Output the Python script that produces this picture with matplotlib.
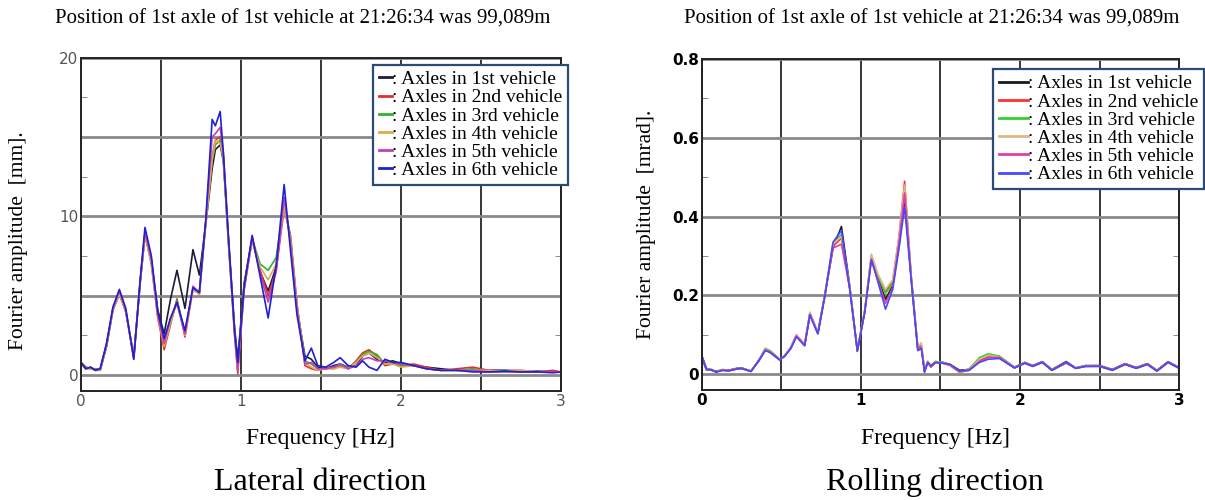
import matplotlib.pyplot as plt
from matplotlib.ticker import MultipleLocator

plt.rcParams['font.family'] = ['Liberation Serif', 'DejaVu Serif']

title_text = "Position of 1st axle of 1st vehicle at 21:26:34 was 99,089m"
labels = [": Axles in 1st vehicle", ": Axles in 2nd vehicle", ": Axles in 3rd vehicle",
          ": Axles in 4th vehicle", ": Axles in 5th vehicle", ": Axles in 6th vehicle"]

# lateral direction, amplitude in mm
freq_lat = [0, 0.03, 0.06, 0.09, 0.12, 0.16, 0.20, 0.24, 0.28, 0.33,
            0.37, 0.40, 0.44, 0.48, 0.52, 0.56, 0.60, 0.65, 0.70, 0.74,
            0.78, 0.82, 0.84, 0.87, 0.89, 0.92, 0.96, 0.98, 1.02, 1.07,
            1.12, 1.17, 1.22, 1.27, 1.31, 1.35, 1.40, 1.44, 1.48, 1.53,
            1.58, 1.62, 1.67, 1.72, 1.76, 1.80, 1.85, 1.90, 1.95, 2.00,
            2.08, 2.16, 2.25, 2.35, 2.45, 2.55, 2.65, 2.75, 2.85, 2.95,
            3.0]

lat_v1 = [0.8, 0.5, 0.4, 0.4, 0.3, 1.8, 4.1, 5.1, 4.0, 1.2,
          5.8, 8.8, 7.2, 4.1, 2.6, 4.8, 6.6, 4.2, 7.9, 6.3,
          9.5, 13.0, 14.2, 14.5, 13.5, 8.8, 3.0, 1.0, 5.8, 8.6,
          6.5, 5.3, 6.8, 11.0, 8.5, 4.2, 1.2, 1.0, 0.5, 0.4,
          0.6, 0.7, 0.5, 0.6, 1.2, 1.4, 1.0, 0.8, 0.9, 0.7,
          0.6, 0.5, 0.4, 0.3, 0.3, 0.3, 0.3, 0.2, 0.25, 0.2,
          0.2]
lat_v2 = [0.7, 0.4, 0.5, 0.3, 0.4, 1.9, 4.2, 5.2, 4.0, 1.1,
          5.9, 8.9, 7.0, 3.6, 1.6, 3.2, 4.8, 2.4, 5.4, 5.1,
          9.6, 13.8, 14.8, 15.0, 13.8, 8.6, 2.5, 0.1, 5.4, 8.5,
          6.6, 5.0, 6.6, 10.5, 8.8, 4.5, 0.6, 0.4, 0.3, 0.5,
          0.4, 0.6, 0.4, 0.9, 1.4, 1.6, 1.2, 0.6, 0.7, 0.6,
          0.7, 0.5, 0.3, 0.4, 0.5, 0.3, 0.3, 0.3, 0.2, 0.3,
          0.2]
lat_v3 = [0.7, 0.5, 0.4, 0.4, 0.3, 1.9, 4.2, 5.2, 4.1, 1.2,
          5.9, 8.9, 7.1, 3.9, 2.0, 3.4, 4.7, 2.7, 5.5, 5.2,
          9.6, 13.5, 14.5, 14.8, 13.6, 8.7, 2.8, 0.6, 5.6, 8.6,
          7.0, 6.6, 7.4, 10.8, 8.6, 4.4, 0.9, 0.7, 0.4, 0.4,
          0.5, 0.6, 0.5, 0.8, 1.3, 1.5, 1.3, 0.7, 0.8, 0.6,
          0.6, 0.4, 0.3, 0.3, 0.4, 0.2, 0.3, 0.2, 0.2, 0.2,
          0.2]
lat_v4 = [0.7, 0.4, 0.4, 0.3, 0.3, 1.9, 4.1, 5.1, 4.0, 1.1,
          5.8, 8.8, 7.0, 3.7, 1.8, 3.3, 4.6, 2.5, 5.4, 5.1,
          9.5, 13.6, 14.8, 14.6, 13.7, 8.7, 2.6, 0.4, 5.5, 8.5,
          6.8, 6.0, 7.0, 10.6, 8.6, 4.5, 0.8, 0.5, 0.3, 0.4,
          0.4, 0.5, 0.4, 0.8, 1.2, 1.4, 1.1, 0.7, 0.7, 0.5,
          0.6, 0.4, 0.3, 0.3, 0.3, 0.3, 0.2, 0.3, 0.2, 0.2,
          0.2]
lat_v5 = [0.8, 0.4, 0.5, 0.3, 0.4, 2.0, 4.2, 5.3, 4.1, 1.0,
          5.9, 9.0, 7.3, 3.8, 2.0, 3.6, 4.5, 2.6, 5.6, 5.2,
          9.7, 15.0, 15.2, 15.6, 14.0, 8.9, 2.7, 0.3, 5.4, 8.7,
          6.4, 4.6, 6.5, 11.2, 8.3, 4.2, 0.7, 0.8, 0.4, 0.4,
          0.5, 0.7, 0.4, 0.6, 1.0, 1.1, 0.9, 0.9, 0.8, 0.7,
          0.6, 0.4, 0.3, 0.3, 0.3, 0.2, 0.2, 0.2, 0.2, 0.2,
          0.2]
lat_v6 = [0.8, 0.4, 0.5, 0.3, 0.4, 2.0, 4.3, 5.4, 4.2, 1.0,
          6.0, 9.3, 7.5, 4.0, 2.3, 3.6, 4.6, 2.8, 5.5, 5.2,
          9.8, 16.1, 15.7, 16.6, 14.0, 9.0, 2.8, 0.8, 5.6, 8.8,
          6.2, 3.6, 6.9, 12.0, 7.8, 3.8, 0.9, 1.7, 0.6, 0.5,
          0.8, 1.1, 0.6, 0.5, 0.9, 0.5, 0.3, 1.0, 0.8, 0.8,
          0.6, 0.4, 0.3, 0.3, 0.2, 0.2, 0.25, 0.2, 0.2, 0.15,
          0.2]

# rolling direction, amplitude in mrad
freq_rol = [0, 0.03, 0.06, 0.09, 0.13, 0.17, 0.22, 0.25, 0.31, 0.36,
            0.40, 0.43, 0.49, 0.52, 0.56, 0.595, 0.647, 0.68, 0.73, 0.773,
            0.825, 0.878, 0.93, 0.978, 1.024, 1.066, 1.107, 1.155, 1.20, 1.24,
            1.275, 1.316, 1.358, 1.38, 1.40, 1.42, 1.44, 1.47, 1.515, 1.56,
            1.62, 1.68, 1.745, 1.80, 1.87, 1.965, 2.03, 2.08, 2.14, 2.20,
            2.29, 2.35, 2.41, 2.50, 2.58, 2.66, 2.73, 2.80, 2.86, 2.93,
            3.0]

rol_v1 = [0.048, 0.015, 0.010, 0.008, 0.010, 0.010, 0.015, 0.016, 0.008, 0.036,
          0.064, 0.058, 0.038, 0.046, 0.068, 0.098, 0.075, 0.155, 0.105, 0.20,
          0.32, 0.375, 0.225, 0.058, 0.16, 0.295, 0.245, 0.19, 0.225, 0.33,
          0.445, 0.245, 0.065, 0.07, 0.01, 0.032, 0.022, 0.032, 0.03, 0.025,
          0.010, 0.012, 0.035, 0.045, 0.045, 0.018, 0.03, 0.022, 0.032, 0.012,
          0.032, 0.016, 0.022, 0.022, 0.012, 0.027, 0.017, 0.027, 0.010, 0.032,
          0.017]
rol_v2 = [0.040, 0.012, 0.012, 0.006, 0.012, 0.010, 0.014, 0.014, 0.008, 0.034,
          0.062, 0.056, 0.037, 0.046, 0.068, 0.10, 0.075, 0.152, 0.105, 0.20,
          0.325, 0.345, 0.22, 0.062, 0.158, 0.30, 0.25, 0.21, 0.235, 0.35,
          0.49, 0.25, 0.065, 0.075, 0.008, 0.030, 0.018, 0.030, 0.028, 0.022,
          0.005, 0.010, 0.035, 0.045, 0.042, 0.016, 0.028, 0.020, 0.030, 0.010,
          0.028, 0.015, 0.020, 0.020, 0.010, 0.025, 0.015, 0.025, 0.008, 0.030,
          0.015]
rol_v3 = [0.042, 0.013, 0.011, 0.006, 0.011, 0.009, 0.014, 0.016, 0.008, 0.036,
          0.066, 0.060, 0.038, 0.046, 0.066, 0.098, 0.074, 0.152, 0.104, 0.198,
          0.33, 0.355, 0.22, 0.060, 0.16, 0.30, 0.25, 0.205, 0.23, 0.34,
          0.47, 0.25, 0.062, 0.07, 0.008, 0.032, 0.020, 0.032, 0.030, 0.024,
          0.006, 0.014, 0.042, 0.052, 0.046, 0.017, 0.030, 0.021, 0.031, 0.011,
          0.030, 0.016, 0.021, 0.021, 0.011, 0.026, 0.016, 0.026, 0.009, 0.031,
          0.016]
rol_v4 = [0.042, 0.012, 0.012, 0.006, 0.011, 0.009, 0.014, 0.015, 0.008, 0.035,
          0.065, 0.058, 0.037, 0.047, 0.07, 0.10, 0.076, 0.158, 0.106, 0.20,
          0.33, 0.35, 0.222, 0.06, 0.162, 0.305, 0.255, 0.215, 0.24, 0.35,
          0.48, 0.25, 0.07, 0.08, 0.010, 0.034, 0.020, 0.031, 0.029, 0.023,
          0.006, 0.012, 0.038, 0.048, 0.044, 0.017, 0.029, 0.021, 0.031, 0.011,
          0.029, 0.015, 0.021, 0.021, 0.010, 0.026, 0.016, 0.026, 0.009, 0.031,
          0.016]
rol_v5 = [0.044, 0.013, 0.011, 0.006, 0.010, 0.010, 0.014, 0.015, 0.007, 0.035,
          0.062, 0.057, 0.037, 0.046, 0.066, 0.097, 0.074, 0.152, 0.104, 0.198,
          0.32, 0.33, 0.218, 0.060, 0.158, 0.292, 0.24, 0.18, 0.22, 0.335,
          0.46, 0.245, 0.062, 0.068, 0.006, 0.030, 0.020, 0.030, 0.028, 0.024,
          0.007, 0.011, 0.033, 0.042, 0.043, 0.016, 0.029, 0.021, 0.031, 0.010,
          0.030, 0.015, 0.020, 0.021, 0.011, 0.026, 0.016, 0.026, 0.009, 0.031,
          0.016]
rol_v6 = [0.045, 0.011, 0.012, 0.005, 0.010, 0.008, 0.013, 0.015, 0.007, 0.035,
          0.060, 0.055, 0.036, 0.045, 0.065, 0.095, 0.072, 0.150, 0.102, 0.195,
          0.335, 0.365, 0.215, 0.060, 0.155, 0.290, 0.235, 0.165, 0.215, 0.320,
          0.425, 0.240, 0.060, 0.065, 0.005, 0.030, 0.020, 0.030, 0.028, 0.025,
          0.008, 0.010, 0.030, 0.038, 0.040, 0.016, 0.028, 0.020, 0.030, 0.010,
          0.030, 0.015, 0.020, 0.020, 0.010, 0.025, 0.015, 0.025, 0.008, 0.030,
          0.015]

lat_colors = ['#1c1c3a', '#e03030', '#30b030', '#e0a850', '#c040c0', '#2020d0']
rol_colors = ['#1a1a1a', '#ff3030', '#30d030', '#e0b888', '#e040a0', '#4848ff']

fig = plt.figure(figsize=(12.05, 5), dpi=100)
ax1 = fig.add_axes([0.0672, 0.218, 0.3983, 0.667])
ax2 = fig.add_axes([0.5823, 0.220, 0.3963, 0.662])


def style_axes(ax, ymin, ymax, ystep, ylabels, minor, tick_color, tick_weight):
    ax.set_xlim(0, 3)
    ax.set_ylim(ymin, ymax)
    ax.set_xticks([0, 0.5, 1, 1.5, 2, 2.5, 3])
    ax.set_xticklabels(['0', '', '1', '', '2', '', '3'])
    yt = [ystep * i for i in range(len(ylabels))]
    ax.set_yticks(yt)
    ax.set_yticklabels(ylabels)
    ax.yaxis.set_minor_locator(MultipleLocator(minor))
    ax.tick_params(which='major', length=0, pad=2, labelsize=11,
                   labelcolor=tick_color, labelfontfamily='DejaVu Sans')
    ax.tick_params(which='minor', axis='y', direction='in', length=4,
                   color='#777777', left=True, right=True)
    for t in ax.get_xticklabels() + ax.get_yticklabels():
        t.set_fontweight(tick_weight)
    ax.grid(True, axis='x', color='black', linewidth=1.1)
    ax.grid(True, axis='y', color='#8a8a8a', linewidth=2.0)
    for s in ax.spines.values():
        s.set_linewidth(1.4)
        s.set_color('#222222')


lat = [lat_v1, lat_v2, lat_v3, lat_v4, lat_v5, lat_v6]
for vals, c, lab in zip(lat, lat_colors, labels):
    ax1.plot(freq_lat, vals, color=c, linewidth=1.2, label=lab)
style_axes(ax1, -1, 20, 5, ['0', '', '10', '', '20'], 2.5, '#555555', 'normal')

rol = [rol_v1, rol_v2, rol_v3, rol_v4, rol_v5, rol_v6]
for vals, c, lab in zip(rol, rol_colors, labels):
    ax2.plot(freq_rol, vals, color=c, linewidth=1.2, label=lab)
style_axes(ax2, -0.04, 0.8, 0.2, ['0', '0.2', '0.4', '0.6', '0.8'], 0.1, 'black', 'bold')

for ax, hl, anchor in [(ax1, 0.7, (0.608, 0.978)), (ax2, 1.5, (0.61, 0.97))]:
    leg = ax.legend(loc='upper left', bbox_to_anchor=anchor, fontsize=14,
                    handlelength=hl, handletextpad=0.0, labelspacing=0.03,
                    borderpad=0.3, borderaxespad=0, fancybox=False, framealpha=1)
    leg.get_frame().set_edgecolor('#2b4a78')
    leg.get_frame().set_linewidth(1.6)
    for h in leg.get_lines():
        h.set_linewidth(2)

ax1.set_ylabel('Fourier amplitude  [mm].', fontsize=15.5)
ax1.yaxis.set_label_coords(-0.11, 0.45)
ax2.set_ylabel('Fourier amplitude  [mrad].', fontsize=15.5)
ax2.yaxis.set_label_coords(-0.096, 0.5)
ax1.set_xlabel('Frequency [Hz]', fontsize=17)
ax1.xaxis.set_label_coords(0.5, -0.11)
ax2.set_xlabel('Frequency [Hz]', fontsize=17)
ax2.xaxis.set_label_coords(0.49, -0.115)

fig.text(0.2515, 0.962, title_text, ha='center', va='center', fontsize=15)
fig.text(0.773, 0.962, title_text, ha='center', va='center', fontsize=15)
fig.text(0.266, 0.036, 'Lateral direction', ha='center', va='center', fontsize=23)
fig.text(0.776, 0.036, 'Rolling direction', ha='center', va='center', fontsize=23)

fig.savefig('out.png', dpi=100, facecolor='white')
